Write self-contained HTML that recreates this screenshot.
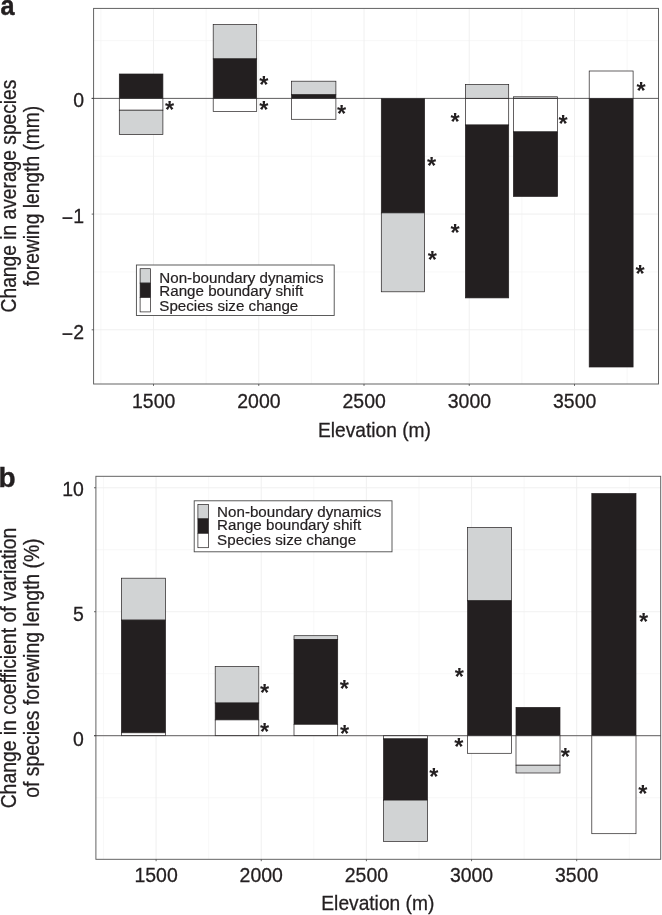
<!DOCTYPE html>
<html lang="en"><head><meta charset="utf-8"><title>Figure</title>
<style>html,body{margin:0;padding:0;background:#fff}svg{display:block;will-change:transform}text{font-family:'Liberation Sans', Arial, Helvetica, sans-serif}</style></head><body>
<svg width="662" height="915" viewBox="0 0 662 915">
<rect width="662" height="915" fill="#fff"/>
<line x1="100.88" y1="8.4" x2="100.88" y2="384.0" stroke="#f5f5f5" stroke-width="0.7"/>
<line x1="206.12" y1="8.4" x2="206.12" y2="384.0" stroke="#f5f5f5" stroke-width="0.7"/>
<line x1="311.38" y1="8.4" x2="311.38" y2="384.0" stroke="#f5f5f5" stroke-width="0.7"/>
<line x1="416.62" y1="8.4" x2="416.62" y2="384.0" stroke="#f5f5f5" stroke-width="0.7"/>
<line x1="521.88" y1="8.4" x2="521.88" y2="384.0" stroke="#f5f5f5" stroke-width="0.7"/>
<line x1="627.12" y1="8.4" x2="627.12" y2="384.0" stroke="#f5f5f5" stroke-width="0.7"/>
<line x1="93.6" y1="40.55" x2="658.5" y2="40.55" stroke="#f5f5f5" stroke-width="0.7"/>
<line x1="93.6" y1="156.25" x2="658.5" y2="156.25" stroke="#f5f5f5" stroke-width="0.7"/>
<line x1="93.6" y1="271.95" x2="658.5" y2="271.95" stroke="#f5f5f5" stroke-width="0.7"/>
<line x1="153.50" y1="8.4" x2="153.50" y2="384.0" stroke="#eeeeee" stroke-width="0.9"/>
<line x1="258.75" y1="8.4" x2="258.75" y2="384.0" stroke="#eeeeee" stroke-width="0.9"/>
<line x1="364.00" y1="8.4" x2="364.00" y2="384.0" stroke="#eeeeee" stroke-width="0.9"/>
<line x1="469.25" y1="8.4" x2="469.25" y2="384.0" stroke="#eeeeee" stroke-width="0.9"/>
<line x1="574.50" y1="8.4" x2="574.50" y2="384.0" stroke="#eeeeee" stroke-width="0.9"/>
<line x1="93.6" y1="98.40" x2="658.5" y2="98.40" stroke="#eeeeee" stroke-width="0.9"/>
<line x1="93.6" y1="214.10" x2="658.5" y2="214.10" stroke="#eeeeee" stroke-width="0.9"/>
<line x1="93.6" y1="329.80" x2="658.5" y2="329.80" stroke="#eeeeee" stroke-width="0.9"/>
<rect x="93.6" y="8.4" width="564.90" height="375.60" fill="none" stroke="#5c5c5c" stroke-width="0.95"/>
<line x1="153.50" y1="384.0" x2="153.50" y2="385.9" stroke="#4a4a4a" stroke-width="0.85"/>
<line x1="258.75" y1="384.0" x2="258.75" y2="385.9" stroke="#4a4a4a" stroke-width="0.85"/>
<line x1="364.00" y1="384.0" x2="364.00" y2="385.9" stroke="#4a4a4a" stroke-width="0.85"/>
<line x1="469.25" y1="384.0" x2="469.25" y2="385.9" stroke="#4a4a4a" stroke-width="0.85"/>
<line x1="574.50" y1="384.0" x2="574.50" y2="385.9" stroke="#4a4a4a" stroke-width="0.85"/>
<line x1="91.69999999999999" y1="98.40" x2="93.6" y2="98.40" stroke="#4a4a4a" stroke-width="0.85"/>
<line x1="91.69999999999999" y1="214.10" x2="93.6" y2="214.10" stroke="#4a4a4a" stroke-width="0.85"/>
<line x1="91.69999999999999" y1="329.80" x2="93.6" y2="329.80" stroke="#4a4a4a" stroke-width="0.85"/>
<rect x="119.30" y="74.00" width="43.60" height="24.40" fill="#231f20" stroke="#231f20" stroke-width="0.7"/>
<rect x="119.30" y="98.40" width="43.60" height="11.80" fill="#ffffff" stroke="#231f20" stroke-width="0.7"/>
<rect x="119.30" y="110.20" width="43.60" height="24.40" fill="#d1d3d4" stroke="#231f20" stroke-width="0.7"/>
<rect x="213.20" y="24.60" width="43.50" height="34.30" fill="#d1d3d4" stroke="#231f20" stroke-width="0.7"/>
<rect x="213.20" y="58.90" width="43.50" height="39.50" fill="#231f20" stroke="#231f20" stroke-width="0.7"/>
<rect x="213.20" y="98.40" width="43.50" height="13.10" fill="#ffffff" stroke="#231f20" stroke-width="0.7"/>
<rect x="291.60" y="81.20" width="44.30" height="13.60" fill="#d1d3d4" stroke="#231f20" stroke-width="0.7"/>
<rect x="291.60" y="94.80" width="44.30" height="3.60" fill="#231f20" stroke="#231f20" stroke-width="0.7"/>
<rect x="291.60" y="98.40" width="44.30" height="20.90" fill="#ffffff" stroke="#231f20" stroke-width="0.7"/>
<rect x="381.30" y="98.40" width="43.30" height="114.50" fill="#231f20" stroke="#231f20" stroke-width="0.7"/>
<rect x="381.30" y="212.90" width="43.30" height="78.90" fill="#d1d3d4" stroke="#231f20" stroke-width="0.7"/>
<rect x="465.40" y="84.50" width="43.30" height="13.90" fill="#d1d3d4" stroke="#231f20" stroke-width="0.7"/>
<rect x="465.40" y="98.40" width="43.30" height="26.60" fill="#ffffff" stroke="#231f20" stroke-width="0.7"/>
<rect x="465.40" y="125.00" width="43.30" height="172.90" fill="#231f20" stroke="#231f20" stroke-width="0.7"/>
<rect x="513.40" y="96.80" width="44.20" height="1.60" fill="#d1d3d4" stroke="#231f20" stroke-width="0.7"/>
<rect x="513.40" y="98.40" width="44.20" height="33.50" fill="#ffffff" stroke="#231f20" stroke-width="0.7"/>
<rect x="513.40" y="131.90" width="44.20" height="64.50" fill="#231f20" stroke="#231f20" stroke-width="0.7"/>
<rect x="589.20" y="71.00" width="43.90" height="27.40" fill="#ffffff" stroke="#231f20" stroke-width="0.7"/>
<rect x="589.20" y="98.40" width="43.90" height="268.60" fill="#231f20" stroke="#231f20" stroke-width="0.7"/>
<line x1="91.69999999999999" y1="98.4" x2="658.5" y2="98.4" stroke="#3c3a3b" stroke-width="0.8"/>
<text x="169.60" y="117.90" font-size="23.5" font-weight="bold" text-anchor="middle" fill="#231f20">*</text>
<text x="263.80" y="92.50" font-size="23.5" font-weight="bold" text-anchor="middle" fill="#231f20">*</text>
<text x="263.80" y="118.20" font-size="23.5" font-weight="bold" text-anchor="middle" fill="#231f20">*</text>
<text x="341.50" y="122.40" font-size="23.5" font-weight="bold" text-anchor="middle" fill="#231f20">*</text>
<text x="431.50" y="174.20" font-size="23.5" font-weight="bold" text-anchor="middle" fill="#231f20">*</text>
<text x="432.30" y="267.70" font-size="23.5" font-weight="bold" text-anchor="middle" fill="#231f20">*</text>
<text x="455.00" y="129.70" font-size="23.5" font-weight="bold" text-anchor="middle" fill="#231f20">*</text>
<text x="455.00" y="241.30" font-size="23.5" font-weight="bold" text-anchor="middle" fill="#231f20">*</text>
<text x="563.10" y="131.50" font-size="23.5" font-weight="bold" text-anchor="middle" fill="#231f20">*</text>
<text x="641.00" y="99.20" font-size="23.5" font-weight="bold" text-anchor="middle" fill="#231f20">*</text>
<text x="640.00" y="282.40" font-size="23.5" font-weight="bold" text-anchor="middle" fill="#231f20">*</text>
<text transform="translate(153.70,408.30) scale(0.95,1)" font-size="20.5" text-anchor="middle" fill="#231f20" stroke="#231f20" stroke-width="0.3">1500</text>
<text transform="translate(258.95,408.30) scale(0.95,1)" font-size="20.5" text-anchor="middle" fill="#231f20" stroke="#231f20" stroke-width="0.3">2000</text>
<text transform="translate(364.20,408.30) scale(0.95,1)" font-size="20.5" text-anchor="middle" fill="#231f20" stroke="#231f20" stroke-width="0.3">2500</text>
<text transform="translate(469.45,408.30) scale(0.95,1)" font-size="20.5" text-anchor="middle" fill="#231f20" stroke="#231f20" stroke-width="0.3">3000</text>
<text transform="translate(574.70,408.30) scale(0.95,1)" font-size="20.5" text-anchor="middle" fill="#231f20" stroke="#231f20" stroke-width="0.3">3500</text>
<text transform="translate(84.00,107.20) scale(0.95,1)" font-size="20.5" text-anchor="end" fill="#231f20" stroke="#231f20" stroke-width="0.3">0</text>
<text transform="translate(84.00,222.90) scale(0.95,1)" font-size="20.5" text-anchor="end" fill="#231f20" stroke="#231f20" stroke-width="0.3"><tspan dy="2">−</tspan><tspan dy="-2">1</tspan></text>
<text transform="translate(84.00,338.60) scale(0.95,1)" font-size="20.5" text-anchor="end" fill="#231f20" stroke="#231f20" stroke-width="0.3"><tspan dy="2">−</tspan><tspan dy="-2">2</tspan></text>
<text transform="translate(374.50,436.80) scale(0.922,1)" font-size="20.8" text-anchor="middle" fill="#231f20" stroke="#231f20" stroke-width="0.3">Elevation (m)</text>
<text transform="translate(16.00,196.00) rotate(-90) scale(0.907,1)" font-size="21.2" text-anchor="middle" fill="#231f20" stroke="#231f20" stroke-width="0.3">Change in average species</text>
<text transform="translate(38.50,196.00) rotate(-90) scale(0.907,1)" font-size="21.2" text-anchor="middle" fill="#231f20" stroke="#231f20" stroke-width="0.3">forewing length (mm)</text>
<rect x="136.40" y="265.00" width="197.8" height="50.5" fill="#fff" stroke="#4a4a4a" stroke-width="0.9"/>
<rect x="140.10" y="268.70" width="10.5" height="14.4" fill="#d1d3d4" stroke="#231f20" stroke-width="0.7"/>
<rect x="140.10" y="283.10" width="10.5" height="14.4" fill="#231f20" stroke="#231f20" stroke-width="0.7"/>
<rect x="140.10" y="297.50" width="10.5" height="14.4" fill="#ffffff" stroke="#231f20" stroke-width="0.7"/>
<text transform="translate(159.30,283.00) scale(0.985,1)" font-size="15.4" text-anchor="start" fill="#231f20" stroke="#231f20" stroke-width="0.2">Non-boundary dynamics</text>
<text transform="translate(159.30,295.90) scale(0.985,1)" font-size="15.4" text-anchor="start" fill="#231f20" stroke="#231f20" stroke-width="0.2">Range boundary shift</text>
<text transform="translate(159.30,311.00) scale(0.985,1)" font-size="15.4" text-anchor="start" fill="#231f20" stroke="#231f20" stroke-width="0.2">Species size change</text>
<text transform="translate(0.5,15.0) scale(0.9,1)" font-size="28" font-weight="bold" fill="#231f20" stroke="#231f20" stroke-width="0.5">a</text>
<line x1="103.52" y1="476.3" x2="103.52" y2="859.3" stroke="#f5f5f5" stroke-width="0.7"/>
<line x1="208.68" y1="476.3" x2="208.68" y2="859.3" stroke="#f5f5f5" stroke-width="0.7"/>
<line x1="313.82" y1="476.3" x2="313.82" y2="859.3" stroke="#f5f5f5" stroke-width="0.7"/>
<line x1="418.98" y1="476.3" x2="418.98" y2="859.3" stroke="#f5f5f5" stroke-width="0.7"/>
<line x1="524.12" y1="476.3" x2="524.12" y2="859.3" stroke="#f5f5f5" stroke-width="0.7"/>
<line x1="629.27" y1="476.3" x2="629.27" y2="859.3" stroke="#f5f5f5" stroke-width="0.7"/>
<line x1="95.9" y1="797.69" x2="660.7" y2="797.69" stroke="#f5f5f5" stroke-width="0.7"/>
<line x1="95.9" y1="673.71" x2="660.7" y2="673.71" stroke="#f5f5f5" stroke-width="0.7"/>
<line x1="95.9" y1="549.74" x2="660.7" y2="549.74" stroke="#f5f5f5" stroke-width="0.7"/>
<line x1="156.10" y1="476.3" x2="156.10" y2="859.3" stroke="#eeeeee" stroke-width="0.9"/>
<line x1="261.25" y1="476.3" x2="261.25" y2="859.3" stroke="#eeeeee" stroke-width="0.9"/>
<line x1="366.40" y1="476.3" x2="366.40" y2="859.3" stroke="#eeeeee" stroke-width="0.9"/>
<line x1="471.55" y1="476.3" x2="471.55" y2="859.3" stroke="#eeeeee" stroke-width="0.9"/>
<line x1="576.70" y1="476.3" x2="576.70" y2="859.3" stroke="#eeeeee" stroke-width="0.9"/>
<line x1="95.9" y1="735.70" x2="660.7" y2="735.70" stroke="#eeeeee" stroke-width="0.9"/>
<line x1="95.9" y1="611.73" x2="660.7" y2="611.73" stroke="#eeeeee" stroke-width="0.9"/>
<line x1="95.9" y1="487.75" x2="660.7" y2="487.75" stroke="#eeeeee" stroke-width="0.9"/>
<rect x="95.9" y="476.3" width="564.80" height="383.00" fill="none" stroke="#5c5c5c" stroke-width="0.95"/>
<line x1="156.10" y1="859.3" x2="156.10" y2="861.1999999999999" stroke="#4a4a4a" stroke-width="0.85"/>
<line x1="261.25" y1="859.3" x2="261.25" y2="861.1999999999999" stroke="#4a4a4a" stroke-width="0.85"/>
<line x1="366.40" y1="859.3" x2="366.40" y2="861.1999999999999" stroke="#4a4a4a" stroke-width="0.85"/>
<line x1="471.55" y1="859.3" x2="471.55" y2="861.1999999999999" stroke="#4a4a4a" stroke-width="0.85"/>
<line x1="576.70" y1="859.3" x2="576.70" y2="861.1999999999999" stroke="#4a4a4a" stroke-width="0.85"/>
<line x1="94.0" y1="735.70" x2="95.9" y2="735.70" stroke="#4a4a4a" stroke-width="0.85"/>
<line x1="94.0" y1="611.73" x2="95.9" y2="611.73" stroke="#4a4a4a" stroke-width="0.85"/>
<line x1="94.0" y1="487.75" x2="95.9" y2="487.75" stroke="#4a4a4a" stroke-width="0.85"/>
<rect x="121.40" y="578.20" width="44.10" height="41.90" fill="#d1d3d4" stroke="#231f20" stroke-width="0.7"/>
<rect x="121.40" y="620.10" width="44.10" height="112.70" fill="#231f20" stroke="#231f20" stroke-width="0.7"/>
<rect x="121.40" y="732.80" width="44.10" height="2.90" fill="#ffffff" stroke="#231f20" stroke-width="0.7"/>
<rect x="215.20" y="666.50" width="43.60" height="36.50" fill="#d1d3d4" stroke="#231f20" stroke-width="0.7"/>
<rect x="215.20" y="703.00" width="43.60" height="16.90" fill="#231f20" stroke="#231f20" stroke-width="0.7"/>
<rect x="215.20" y="719.90" width="43.60" height="15.80" fill="#ffffff" stroke="#231f20" stroke-width="0.7"/>
<rect x="294.00" y="635.70" width="43.70" height="3.80" fill="#d1d3d4" stroke="#231f20" stroke-width="0.7"/>
<rect x="294.00" y="639.50" width="43.70" height="84.80" fill="#231f20" stroke="#231f20" stroke-width="0.7"/>
<rect x="294.00" y="724.30" width="43.70" height="11.40" fill="#ffffff" stroke="#231f20" stroke-width="0.7"/>
<rect x="383.50" y="735.70" width="44.00" height="3.20" fill="#ffffff" stroke="#231f20" stroke-width="0.7"/>
<rect x="383.50" y="738.90" width="44.00" height="61.20" fill="#231f20" stroke="#231f20" stroke-width="0.7"/>
<rect x="383.50" y="800.10" width="44.00" height="41.30" fill="#d1d3d4" stroke="#231f20" stroke-width="0.7"/>
<rect x="467.60" y="527.40" width="44.00" height="73.40" fill="#d1d3d4" stroke="#231f20" stroke-width="0.7"/>
<rect x="467.60" y="600.80" width="44.00" height="134.90" fill="#231f20" stroke="#231f20" stroke-width="0.7"/>
<rect x="467.60" y="735.70" width="44.00" height="17.60" fill="#ffffff" stroke="#231f20" stroke-width="0.7"/>
<rect x="516.00" y="707.40" width="44.00" height="28.30" fill="#231f20" stroke="#231f20" stroke-width="0.7"/>
<rect x="516.00" y="735.70" width="44.00" height="29.50" fill="#ffffff" stroke="#231f20" stroke-width="0.7"/>
<rect x="516.00" y="765.20" width="44.00" height="7.80" fill="#d1d3d4" stroke="#231f20" stroke-width="0.7"/>
<rect x="591.80" y="493.50" width="44.20" height="242.20" fill="#231f20" stroke="#231f20" stroke-width="0.7"/>
<rect x="591.80" y="735.70" width="44.20" height="98.00" fill="#ffffff" stroke="#231f20" stroke-width="0.7"/>
<line x1="94.0" y1="735.7" x2="660.7" y2="735.7" stroke="#3c3a3b" stroke-width="0.8"/>
<text x="264.50" y="701.30" font-size="23.5" font-weight="bold" text-anchor="middle" fill="#231f20">*</text>
<text x="264.50" y="739.80" font-size="23.5" font-weight="bold" text-anchor="middle" fill="#231f20">*</text>
<text x="344.30" y="696.90" font-size="23.5" font-weight="bold" text-anchor="middle" fill="#231f20">*</text>
<text x="344.50" y="742.00" font-size="23.5" font-weight="bold" text-anchor="middle" fill="#231f20">*</text>
<text x="433.80" y="785.10" font-size="23.5" font-weight="bold" text-anchor="middle" fill="#231f20">*</text>
<text x="459.30" y="685.30" font-size="23.5" font-weight="bold" text-anchor="middle" fill="#231f20">*</text>
<text x="458.80" y="755.20" font-size="23.5" font-weight="bold" text-anchor="middle" fill="#231f20">*</text>
<text x="565.30" y="765.10" font-size="23.5" font-weight="bold" text-anchor="middle" fill="#231f20">*</text>
<text x="642.90" y="802.30" font-size="23.5" font-weight="bold" text-anchor="middle" fill="#231f20">*</text>
<text x="643.60" y="630.30" font-size="23.5" font-weight="bold" text-anchor="middle" fill="#231f20">*</text>
<text transform="translate(156.10,882.40) scale(0.95,1)" font-size="20.5" text-anchor="middle" fill="#231f20" stroke="#231f20" stroke-width="0.3">1500</text>
<text transform="translate(261.25,882.40) scale(0.95,1)" font-size="20.5" text-anchor="middle" fill="#231f20" stroke="#231f20" stroke-width="0.3">2000</text>
<text transform="translate(366.40,882.40) scale(0.95,1)" font-size="20.5" text-anchor="middle" fill="#231f20" stroke="#231f20" stroke-width="0.3">2500</text>
<text transform="translate(471.55,882.40) scale(0.95,1)" font-size="20.5" text-anchor="middle" fill="#231f20" stroke="#231f20" stroke-width="0.3">3000</text>
<text transform="translate(576.70,882.40) scale(0.95,1)" font-size="20.5" text-anchor="middle" fill="#231f20" stroke="#231f20" stroke-width="0.3">3500</text>
<text transform="translate(83.90,746.10) scale(0.95,1)" font-size="20.5" text-anchor="end" fill="#231f20" stroke="#231f20" stroke-width="0.3">0</text>
<text transform="translate(83.90,621.20) scale(0.95,1)" font-size="20.5" text-anchor="end" fill="#231f20" stroke="#231f20" stroke-width="0.3">5</text>
<text transform="translate(83.90,495.90) scale(0.95,1)" font-size="20.5" text-anchor="end" fill="#231f20" stroke="#231f20" stroke-width="0.3">10</text>
<text transform="translate(377.80,910.00) scale(0.922,1)" font-size="20.8" text-anchor="middle" fill="#231f20" stroke="#231f20" stroke-width="0.3">Elevation (m)</text>
<text transform="translate(16.00,668.10) rotate(-90) scale(0.9135,1)" font-size="21.2" text-anchor="middle" fill="#231f20" stroke="#231f20" stroke-width="0.3">Change in coefficient of variation</text>
<text transform="translate(38.50,668.10) rotate(-90) scale(0.9135,1)" font-size="21.2" text-anchor="middle" fill="#231f20" stroke="#231f20" stroke-width="0.3">of species forewing length (%)</text>
<rect x="194.20" y="500.80" width="197.8" height="51.0" fill="#fff" stroke="#4a4a4a" stroke-width="0.9"/>
<rect x="197.90" y="504.50" width="10.5" height="14.4" fill="#d1d3d4" stroke="#231f20" stroke-width="0.7"/>
<rect x="197.90" y="518.90" width="10.5" height="14.4" fill="#231f20" stroke="#231f20" stroke-width="0.7"/>
<rect x="197.90" y="533.30" width="10.5" height="14.4" fill="#ffffff" stroke="#231f20" stroke-width="0.7"/>
<text transform="translate(217.10,517.00) scale(0.985,1)" font-size="15.4" text-anchor="start" fill="#231f20" stroke="#231f20" stroke-width="0.2">Non-boundary dynamics</text>
<text transform="translate(217.10,530.00) scale(0.985,1)" font-size="15.4" text-anchor="start" fill="#231f20" stroke="#231f20" stroke-width="0.2">Range boundary shift</text>
<text transform="translate(217.10,545.30) scale(0.985,1)" font-size="15.4" text-anchor="start" fill="#231f20" stroke="#231f20" stroke-width="0.2">Species size change</text>
<text x="-1.6" y="487.0" font-size="28" font-weight="bold" fill="#231f20" stroke="#231f20" stroke-width="0.4">b</text>
</svg></body></html>
